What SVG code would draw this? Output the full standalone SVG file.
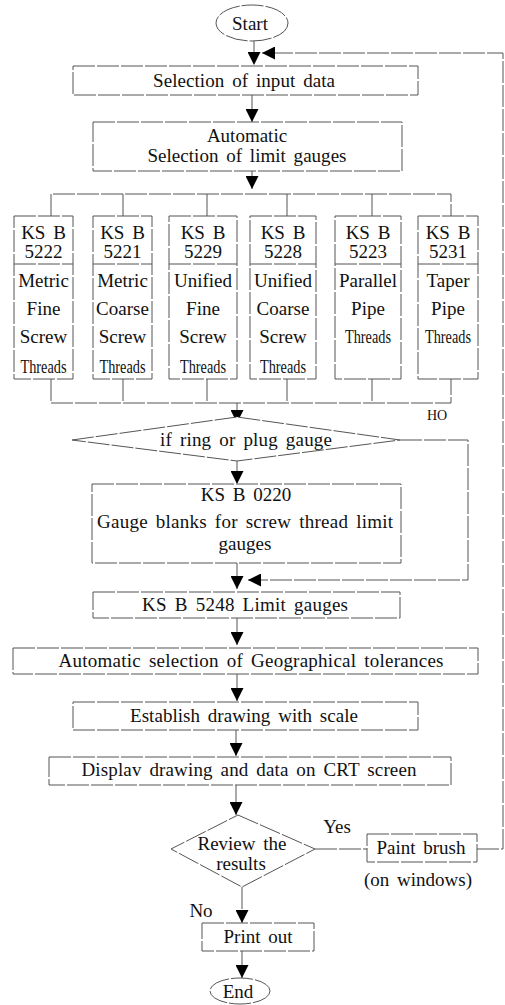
<svg xmlns="http://www.w3.org/2000/svg" width="505" height="1005" viewBox="0 0 505 1005">
<style>
.box{fill:#fff;stroke:#555;stroke-width:1;stroke-dasharray:22 2}
.ln{fill:none;stroke:#555;stroke-width:1;stroke-dasharray:22 2}
text{font-family:"Liberation Serif","Times New Roman",serif;font-size:19px;fill:#111;text-anchor:middle;word-spacing:3px}
.sm{font-size:14px}
</style>
<defs>
<marker id="ah" viewBox="0 0 10 10" refX="10" refY="5" markerWidth="16" markerHeight="13" markerUnits="userSpaceOnUse" orient="auto">
<path d="M0,0 L10,5 L0,10 z" fill="#000" stroke="none"/>
</marker>
</defs>
<rect width="505" height="1005" fill="#fff"/>
<g id="connectors">
<line class="ln" x1="254" y1="41" x2="254" y2="65" marker-end="url(#ah)"/>
<path class="ln" d="M477,849 L503,849 L503,53 L262,53" marker-end="url(#ah)"/>
<line class="ln" x1="252" y1="95" x2="252" y2="122" marker-end="url(#ah)"/>
<line class="ln" x1="252" y1="171" x2="252" y2="189" marker-end="url(#ah)"/>
<path class="ln" d="M51,216 L51,194 L451,194 L451,216 M123,194 L123,216 M207,194 L207,216 M287,194 L287,216 M372,194 L372,216"/>
<path class="ln" d="M51,379 L51,403 L451,403 L451,379 M123,379 L123,403 M207,379 L207,403 M287,379 L287,403 M372,379 L372,403"/>
<line class="ln" x1="237" y1="403" x2="237" y2="423" marker-end="url(#ah)"/>
<path class="ln" d="M400,440 L468,440 L468,580 L248,580" marker-end="url(#ah)"/>
<line class="ln" x1="237" y1="461" x2="237" y2="484" marker-end="url(#ah)"/>
<line class="ln" x1="237" y1="563" x2="237" y2="589" marker-end="url(#ah)"/>
<line class="ln" x1="237" y1="618" x2="237" y2="645" marker-end="url(#ah)"/>
<line class="ln" x1="237" y1="674" x2="237" y2="701" marker-end="url(#ah)"/>
<line class="ln" x1="236" y1="730" x2="236" y2="756" marker-end="url(#ah)"/>
<line class="ln" x1="236" y1="785" x2="236" y2="815" marker-end="url(#ah)"/>
<line class="ln" x1="315" y1="849" x2="367" y2="849"/>
<line class="ln" x1="242" y1="887" x2="242" y2="923" marker-end="url(#ah)"/>
<line class="ln" x1="242" y1="951" x2="242" y2="978" marker-end="url(#ah)"/>
<text class="sm" x="437" y="420">HO</text>
<text x="337" y="833">Yes</text>
<text x="201" y="917">No</text>
</g>
<g id="start">
<ellipse class="box" cx="252" cy="23" rx="36" ry="18"/>
<text x="250" y="30">Start</text>
</g>
<g id="input">
<rect class="box" x="73" y="66" width="345" height="29"/>
<text x="244" y="87" textLength="182">Selection of input data</text>
</g>
<g id="auto-gauges">
<rect class="box" x="93" y="122" width="309" height="49"/>
<text x="247" y="142">Automatic</text>
<text x="247" y="162" textLength="199">Selection of limit gauges</text>
</g>
<g id="b5222">
<rect class="box" x="14" y="216" width="59" height="163"/>
<line class="ln" x1="14" y1="264" x2="73" y2="264"/>
<text x="43.5" y="239">KS B</text>
<text x="43.5" y="258">5222</text>
<text x="43.5" y="287">Metric</text>
<text x="43.5" y="315">Fine</text>
<text x="43.5" y="343">Screw</text>
<text x="43.5" y="373" textLength="46" lengthAdjust="spacingAndGlyphs">Threads</text>
</g>
<g id="b5221">
<rect class="box" x="93" y="216" width="59" height="163"/>
<line class="ln" x1="93" y1="264" x2="152" y2="264"/>
<text x="122.5" y="239">KS B</text>
<text x="122.5" y="258">5221</text>
<text x="122.5" y="287">Metric</text>
<text x="122.5" y="315">Coarse</text>
<text x="122.5" y="343">Screw</text>
<text x="122.5" y="373" textLength="46" lengthAdjust="spacingAndGlyphs">Threads</text>
</g>
<g id="b5229">
<rect class="box" x="169" y="216" width="68" height="163"/>
<line class="ln" x1="169" y1="264" x2="237" y2="264"/>
<text x="203" y="239">KS B</text>
<text x="203" y="258">5229</text>
<text x="203" y="287">Unified</text>
<text x="203" y="315">Fine</text>
<text x="203" y="343">Screw</text>
<text x="203" y="373" textLength="46" lengthAdjust="spacingAndGlyphs">Threads</text>
</g>
<g id="b5228">
<rect class="box" x="250" y="216" width="66" height="163"/>
<line class="ln" x1="250" y1="264" x2="316" y2="264"/>
<text x="283" y="239">KS B</text>
<text x="283" y="258">5228</text>
<text x="283" y="287">Unified</text>
<text x="283" y="315">Coarse</text>
<text x="283" y="343">Screw</text>
<text x="283" y="373" textLength="46" lengthAdjust="spacingAndGlyphs">Threads</text>
</g>
<g id="b5223">
<rect class="box" x="335" y="216" width="66" height="163"/>
<line class="ln" x1="335" y1="264" x2="401" y2="264"/>
<text x="368" y="239">KS B</text>
<text x="368" y="258">5223</text>
<text x="368" y="287">Parallel</text>
<text x="368" y="315">Pipe</text>
<text x="368" y="343" textLength="46" lengthAdjust="spacingAndGlyphs">Threads</text>
</g>
<g id="b5231">
<rect class="box" x="418" y="216" width="60" height="163"/>
<line class="ln" x1="418" y1="264" x2="478" y2="264"/>
<text x="448" y="239">KS B</text>
<text x="448" y="258">5231</text>
<text x="448" y="287">Taper</text>
<text x="448" y="315">Pipe</text>
<text x="448" y="343" textLength="46" lengthAdjust="spacingAndGlyphs">Threads</text>
</g>
<g id="ring-plug">
<polygon class="box" points="72,440 237,417 400,440 237,461"/>
<text x="246" y="446" textLength="172">if ring or plug gauge</text>
</g>
<g id="b0220">
<rect class="box" x="92" y="484" width="309" height="79"/>
<text x="246" y="501">KS B 0220</text>
<text x="245" y="528" textLength="296">Gauge blanks for screw thread limit</text>
<text x="245" y="550">gauges</text>
</g>
<g id="b5248">
<rect class="box" x="93" y="592" width="307" height="26"/>
<text x="245" y="611" textLength="206">KS B 5248 Limit gauges</text>
</g>
<g id="geo">
<rect class="box" x="13" y="648" width="465" height="26"/>
<text x="251" y="667" textLength="385">Automatic selection of Geographical tolerances</text>
</g>
<g id="establish">
<rect class="box" x="73" y="702" width="345" height="28"/>
<text x="244" y="722" textLength="228">Establish drawing with scale</text>
</g>
<g id="display">
<rect class="box" x="49" y="757" width="402" height="28"/>
<text x="249" y="776" textLength="335">Displav drawing and data on CRT screen</text>
</g>
<g id="review">
<polygon class="box" points="238,815 315,849 242,887 171,849"/>
<text x="242" y="850">Review the</text>
<text x="241" y="870">results</text>
</g>
<g id="paint">
<rect class="box" x="367" y="834" width="110" height="28"/>
<text x="421" y="854">Paint brush</text>
<text x="418" y="886">(on windows)</text>
</g>
<g id="print">
<rect class="box" x="202" y="923" width="112" height="28"/>
<text x="258" y="943">Print out</text>
</g>
<g id="end">
<ellipse class="box" cx="240" cy="991" rx="30" ry="13"/>
<text x="238" y="998">End</text>
</g>
</svg>
